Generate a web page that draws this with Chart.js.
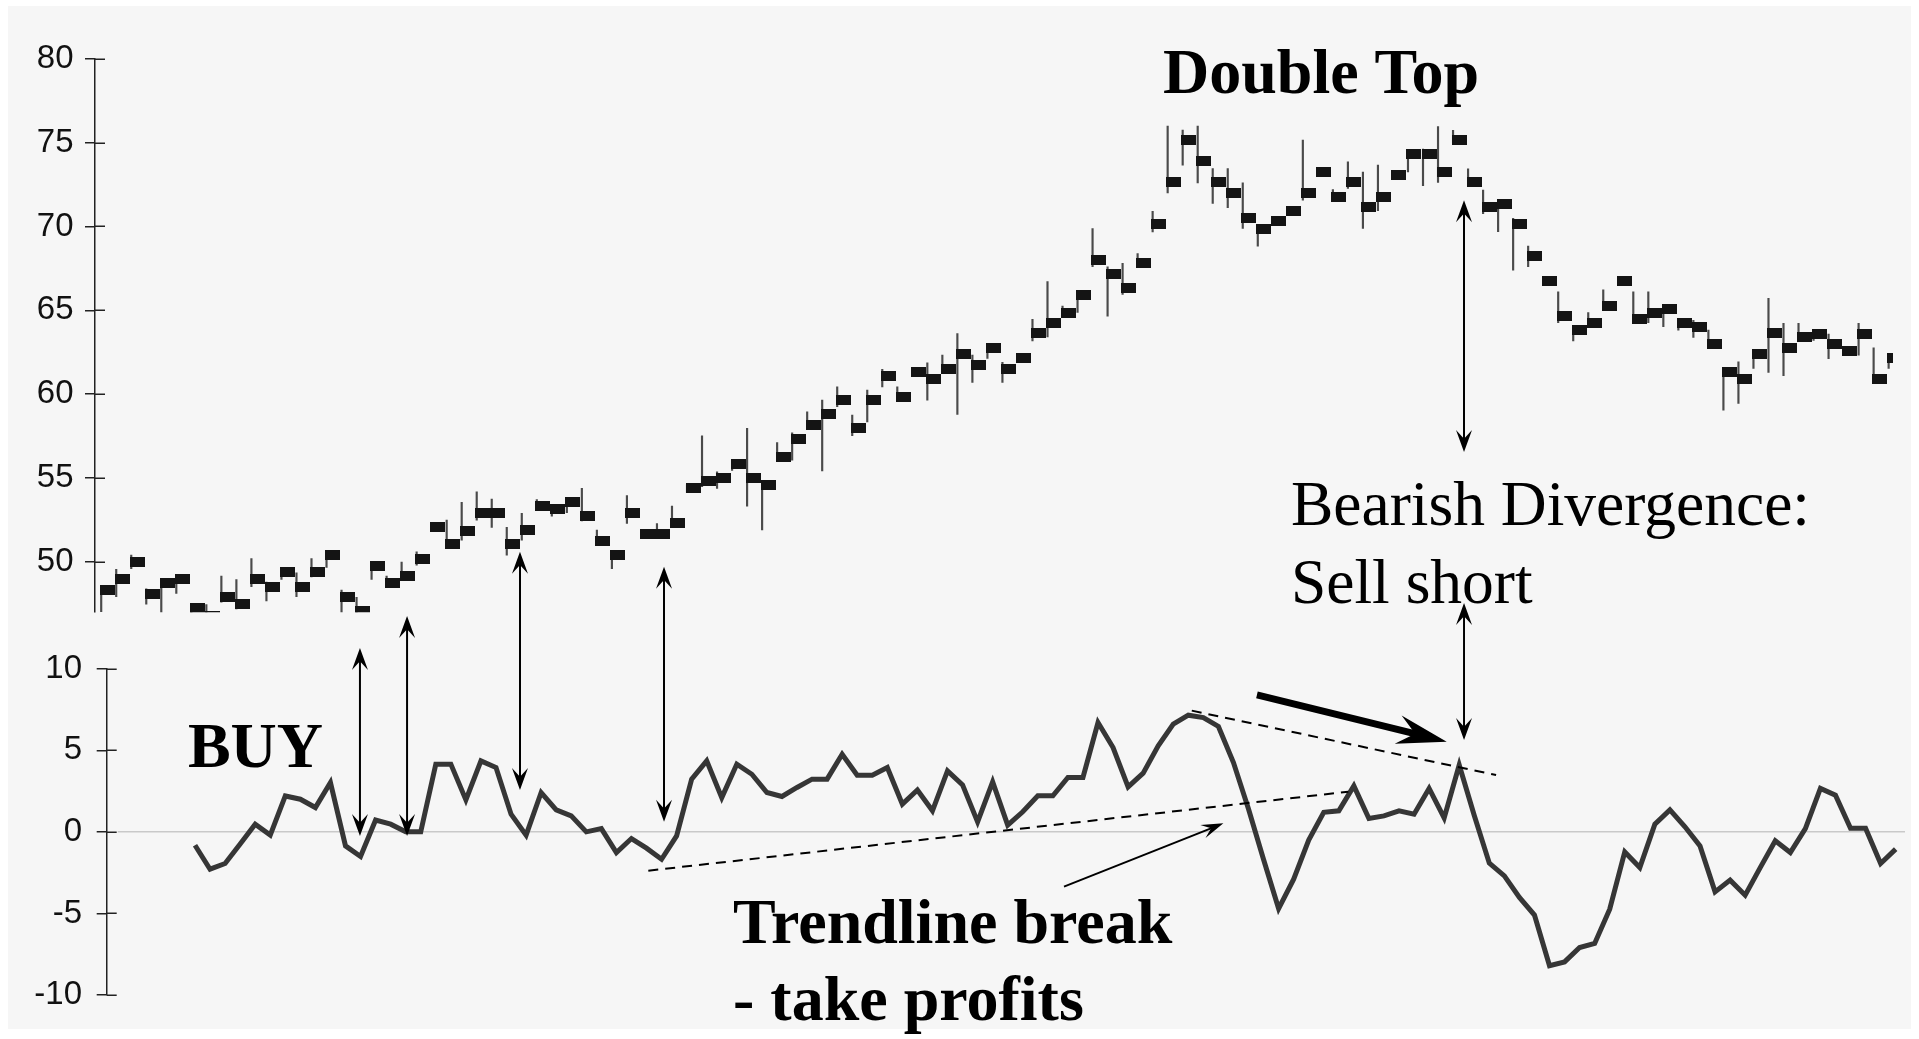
<!DOCTYPE html>
<html><head><meta charset="utf-8">
<script src="https://cdn.jsdelivr.net/npm/chart.js@4.4.1/dist/chart.umd.min.js"></script>
<style>
html,body{margin:0;padding:0;background:#fff;width:1919px;height:1039px;overflow:hidden}
#bg{position:absolute;left:8px;top:6px;width:1903px;height:1023px;background:#f6f6f6}
canvas{position:absolute;left:0;top:0}
</style></head><body>
<div id="bg"></div>
<canvas id="top" width="1919" height="1039"></canvas>
<canvas id="bot" width="1919" height="1039"></canvas>
<script>
// ---------- DATA ----------
const priceClose = [
48.32,48.95,50.0,48.1,48.76,48.95,47.26,46.75,47.88,47.46,
48.95,48.52,49.37,48.52,49.37,50.4,47.88,47.07,49.77,48.76,
49.15,50.2,52.09,51.04,51.87,52.93,52.93,51.04,51.88,53.35,
53.13,53.55,52.71,51.24,50.41,52.93,51.68,51.68,52.29,54.38,
54.8,55.02,55.85,55.02,54.6,56.27,57.32,58.16,58.79,59.63,
57.96,59.63,61.1,59.83,61.3,60.9,61.5,62.37,61.73,62.77,
61.53,62.13,63.62,64.24,64.87,65.9,68.0,67.18,66.35,67.8,
70.12,72.63,75.15,73.88,72.63,72.0,70.52,69.88,70.32,70.94,
72.0,73.25,71.78,72.63,71.15,71.78,73.05,74.3,74.3,73.26,
75.17,72.67,71.17,71.33,70.12,68.23,66.74,64.66,63.82,64.26,
65.27,66.74,64.46,64.86,65.07,64.26,64.02,62.99,61.3,60.88,
62.37,63.62,62.78,63.4,63.6,62.99,62.57,63.6,60.88,62.13];
const priceHigh = [
48.6,49.55,50.4,48.4,49.0,49.2,47.5,47.46,49.15,48.95,
50.2,48.8,49.6,49.35,50.2,50.6,48.32,47.88,50.0,49.15,
49.99,50.6,52.3,52.49,53.55,54.18,53.75,52.06,52.89,53.72,
53.4,53.8,54.38,51.9,50.6,53.96,51.9,52.29,53.33,54.6,
57.52,55.37,56.05,57.96,54.85,57.11,57.7,58.95,59.65,60.44,
58.75,60.24,61.48,60.44,61.55,61.87,62.33,63.62,62.33,63.0,
61.9,62.3,64.46,66.72,65.25,66.1,69.88,67.6,67.8,68.39,
70.91,75.99,75.75,75.99,73.46,73.46,72.6,70.1,70.55,71.2,
75.15,73.5,72.2,73.86,73.25,73.66,73.3,74.55,74.61,75.96,
75.73,73.44,72.17,71.55,70.48,68.83,66.95,66.1,64.05,64.86,
66.22,66.95,66.1,66.1,65.3,64.5,64.4,63.82,61.55,61.93,
62.6,65.71,64.22,64.22,63.85,63.58,62.8,64.22,62.76,62.35];
const priceLow = [
47.03,47.92,49.6,47.48,46.8,48.12,46.8,46.4,47.6,47.2,
48.52,47.68,48.95,47.92,49.1,49.67,46.8,46.8,48.95,48.5,
48.9,49.8,51.8,50.8,51.3,52.49,52.05,50.4,51.3,53.1,
52.73,52.93,52.45,51.0,49.6,52.29,51.45,51.45,52.05,54.15,
54.48,54.38,55.45,53.33,51.9,56.0,56.07,57.95,55.43,59.25,
57.52,58.35,60.44,59.6,61.05,59.65,61.25,58.8,60.7,62.13,
60.7,61.9,63.18,63.42,64.6,64.87,67.6,64.66,65.95,67.55,
69.68,72.0,73.66,72.6,71.37,71.13,69.88,68.83,70.1,70.7,
71.57,73.0,71.55,72.27,69.88,70.94,72.8,73.26,72.43,72.63,
74.95,72.4,70.77,69.69,67.4,67.6,66.5,64.26,63.18,64.0,
65.0,66.5,64.2,64.26,64.03,63.82,63.38,62.75,59.05,59.45,
61.53,61.3,61.1,63.15,63.2,62.12,62.3,62.33,60.65,61.53];
const oscValues = [
-0.82,-2.29,-1.94,-0.75,0.47,-0.2,2.2,2.0,1.49,3.02,
-0.86,-1.51,0.72,0.47,0,0,4.15,4.15,1.96,4.35,
3.94,1.08,-0.2,2.41,1.35,0.98,0,0.2,-1.27,-0.41,
-1.0,-1.68,-0.25,3.23,4.35,2.1,4.15,3.53,2.41,2.17,
2.72,3.23,3.23,4.76,3.47,3.47,3.94,1.7,2.57,1.29,
3.74,2.88,0.61,3.06,0.41,1.23,2.21,2.21,3.33,3.33,
6.7,5.17,2.76,3.6,5.27,6.6,7.15,7.0,6.46,4.25,
1.4,-1.7,-4.7,-2.9,-0.5,1.2,1.29,2.82,0.82,0.98,
1.29,1.08,2.66,0.85,4.1,1.0,-1.92,-2.7,-4.02,-5.1,
-8.2,-7.97,-7.09,-6.84,-4.74,-1.23,-2.19,0.47,1.35,0.31,
-0.86,-3.68,-2.96,-3.88,-2.19,-0.55,-1.27,0.2,2.66,2.25,
0.22,0.22,-1.94,-1.06];
const priceTicks = [50,55,60,65,70,75,80];
const oscTicks = [-10,-5,0,5,10];

// annotation anchors in data units: [chart, x, y]
const labels = [
  {at:['top',70.79,77.97], text:'Double Top', bold:true},
  {at:['top',79.31,52.18], text:'Bearish Divergence:', bold:false},
  {at:['top',79.31,47.57], text:'Sell short', bold:false},
  {at:['bot',-0.47,3.99], text:'BUY', bold:true},
  {at:['bot',35.75,-6.79], text:'Trendline break', bold:true},
  {at:['bot',35.75,-11.53], text:'- take profits', bold:true}
];
const doubleArrows = [
  [['bot',10.96,11.27],['bot',10.96,-0.25]],
  [['bot',14.09,13.23],['bot',14.09,-0.25]],
  [['top',27.98,50.6],['bot',21.59,2.57]],
  [['top',37.57,49.71],['bot',31.16,0.62]],
  [['top',90.83,71.56],['top',90.83,56.55]],
  [['bot',84.32,14.02],['bot',84.32,5.63]]
];
const thickArrow = [['bot',70.56,8.39],['bot',83.17,5.53]];
const thinArrow = [['bot',57.74,-3.36],['bot',68.33,0.52]];
const dashedLines = [
  [['bot',30.12,-2.38],['bot',76.63,2.46]],
  [['bot',66.23,7.43],['bot',86.45,3.48]]
];

// ---------- RENDER ----------
Chart.defaults.font.family = '"Liberation Sans", Arial, sans-serif';
const bodyImg = document.createElement('canvas');
bodyImg.width = 15; bodyImg.height = 10;
(function(){const g = bodyImg.getContext('2d'); g.fillStyle = '#141414'; g.fillRect(0,0,15,10);})();

const crossTicks = {
  id: 'crossTicks',
  afterDraw(chart) {
    const s = chart.scales.y, ctx = chart.ctx;
    ctx.save(); ctx.strokeStyle = '#222'; ctx.lineWidth = 1.5;
    s.ticks.forEach(t => {
      const y = Math.round(s.getPixelForValue(t.value)) + 0.25;
      ctx.beginPath(); ctx.moveTo(s.right, y); ctx.lineTo(s.right + 10, y); ctx.stroke();
    });
    ctx.restore();
  }
};

function yAxis(ticksArr, width, pad) {
  return {
    position: 'left',
    afterFit(s) { s.width = width; },
    afterBuildTicks(s) { s.ticks = ticksArr.map(v => ({value: v})); },
    grid: {display: true, drawOnChartArea: false, drawTicks: true, tickLength: 10, color: '#222', lineWidth: 1.5},
    border: {display: true, color: '#222', width: 1.5},
    ticks: {font: {size: 33}, color: '#111', padding: pad}
  };
}

const topChart = new Chart(document.getElementById('top'), {
  type: 'bar',
  data: {datasets: [
    {type: 'bar', data: priceHigh.map((h, i) => ({x: i + 0.1, y: [priceLow[i], h]})),
     backgroundColor: '#4a4a4a', barThickness: 1.5, grouped: false, clip: 0, order: 2},
    {type: 'scatter', data: priceClose.map((c, i) => ({x: i + 0.5, y: c})),
     pointStyle: bodyImg, pointRadius: 8, pointHoverRadius: 8, clip: 0, order: 1}
  ]},
  options: {
    responsive: false, animation: false, devicePixelRatio: 1, events: [],
    layout: {padding: {left: 0, right: 26, top: 58.8, bottom: 426.8}},
    plugins: {legend: {display: false}, tooltip: {enabled: false}},
    scales: {
      x: {type: 'linear', min: -0.313, max: 119.39, display: false, offset: false},
      y: Object.assign({min: 47, max: 80}, yAxis(priceTicks, 95, 11.5))
    }
  },
  plugins: [crossTicks]
});

const zeroLine = {
  id: 'zeroLine',
  beforeDatasetsDraw(chart) {
    const ctx = chart.ctx, a = chart.chartArea, y = chart.scales.y.getPixelForValue(0);
    ctx.save(); ctx.strokeStyle = '#c9c9c9'; ctx.lineWidth = 1.5;
    ctx.beginPath(); ctx.moveTo(a.left + 11, y); ctx.lineTo(a.right, y); ctx.stroke(); ctx.restore();
  }
};

function head(ctx, t, f, len, hw, notch) {
  const a = Math.atan2(t[1] - f[1], t[0] - f[0]), c = Math.cos(a), s = Math.sin(a);
  ctx.beginPath();
  ctx.moveTo(t[0], t[1]);
  ctx.lineTo(t[0] - len * c - hw * s, t[1] - len * s + hw * c);
  ctx.lineTo(t[0] - notch * len * c, t[1] - notch * len * s);
  ctx.lineTo(t[0] - len * c + hw * s, t[1] - len * s - hw * c);
  ctx.closePath(); ctx.fill();
}
function shaft(ctx, a, b, cutA, cutB) {
  const L = Math.hypot(b[0] - a[0], b[1] - a[1]), ux = (b[0] - a[0]) / L, uy = (b[1] - a[1]) / L;
  ctx.beginPath();
  ctx.moveTo(a[0] + ux * cutA, a[1] + uy * cutA);
  ctx.lineTo(b[0] - ux * cutB, b[1] - uy * cutB);
  ctx.stroke();
}
const annotations = {
  id: 'annotations',
  afterDraw(chart) {
    const P = p => {
      const c = p[0] === 'top' ? topChart : chart;
      return [c.scales.x.getPixelForValue(p[1]), c.scales.y.getPixelForValue(p[2])];
    };
    const ctx = chart.ctx;
    ctx.save();
    ctx.fillStyle = '#000'; ctx.strokeStyle = '#000';
    ctx.lineWidth = 2; ctx.setLineDash([10, 7]);
    dashedLines.forEach(l => { const a = P(l[0]), b = P(l[1]); ctx.beginPath(); ctx.moveTo(a[0], a[1]); ctx.lineTo(b[0], b[1]); ctx.stroke(); });
    ctx.setLineDash([]);
    ctx.lineWidth = 2;
    doubleArrows.forEach(l => {
      const a = P(l[0]), b = P(l[1]);
      b[0] = a[0];
      shaft(ctx, a, b, 12, 12);
      head(ctx, a, b, 22, 8, 0.6);
      head(ctx, b, a, 22, 8, 0.6);
    });
    { const a = P(thinArrow[0]), b = P(thinArrow[1]); ctx.lineWidth = 2; shaft(ctx, a, b, 0, 10); head(ctx, b, a, 22, 7, 0.6); }
    { const a = P(thickArrow[0]), b = P(thickArrow[1]); ctx.lineWidth = 7; shaft(ctx, a, b, 0, 30); head(ctx, b, a, 50, 14.5, 0.65); }
    ctx.textBaseline = 'alphabetic'; ctx.textAlign = 'left';
    labels.forEach(t => {
      const p = P(t.at);
      ctx.font = (t.bold ? 'bold 64px' : '63.5px') + ' "Liberation Serif", "Times New Roman", serif';
      ctx.fillText(t.text, p[0], p[1]);
    });
    ctx.restore();
  }
};

const botChart = new Chart(document.getElementById('bot'), {
  type: 'line',
  data: {datasets: [
    {data: oscValues.map((v, j) => ({x: j, y: v})), borderColor: '#363636', borderWidth: 5,
     pointRadius: 0, tension: 0, fill: false, clip: 0, borderJoinStyle: 'miter'}
  ]},
  options: {
    responsive: false, animation: false, devicePixelRatio: 1, events: [],
    layout: {padding: {left: 0, right: 14, top: 668.7, bottom: 44}},
    plugins: {legend: {display: false}, tooltip: {enabled: false}},
    scales: {
      x: {type: 'linear', min: -5.867, max: 113.62, display: false, offset: false},
      y: Object.assign({min: -10, max: 10}, yAxis(oscTicks, 106.7, 14.7))
    }
  },
  plugins: [crossTicks, zeroLine, annotations]
});
</script>
</body></html>
